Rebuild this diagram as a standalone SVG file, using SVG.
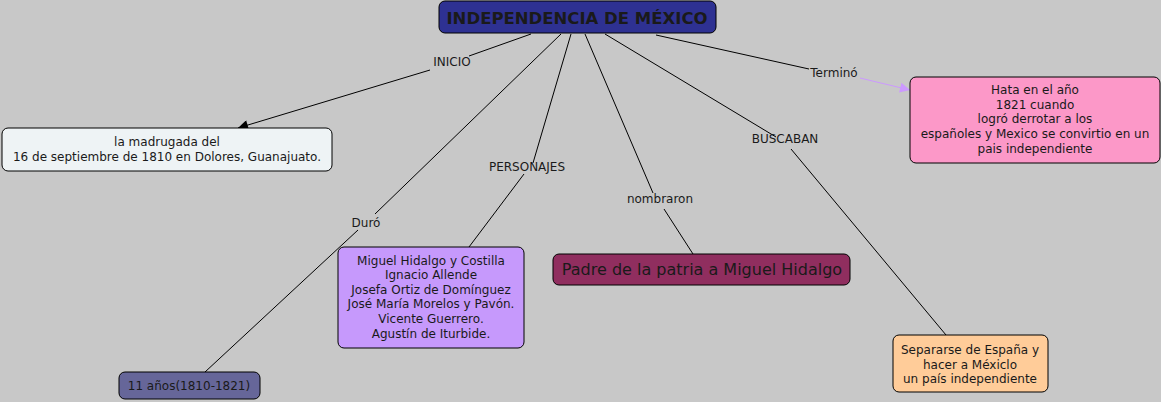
<svg xmlns="http://www.w3.org/2000/svg" width="1161" height="402" viewBox="0 0 1161 402">
<defs>
<style>
.n{stroke:#000;stroke-width:1}
.t{font-family:"DejaVu Sans",Verdana,sans-serif;font-size:12px;fill:#1a1a1a;text-anchor:middle}
.c{fill:none;stroke:#000;stroke-width:1}
.lbl{font-family:"DejaVu Sans",Verdana,sans-serif;font-size:12px;fill:#1a1a1a;text-anchor:middle}
</style>
<marker id="ab" viewBox="0 0 10 10" refX="10" refY="5" markerWidth="12" markerHeight="10" markerUnits="userSpaceOnUse" orient="auto"><path d="M0,0L10,5L0,10z" fill="#000"/></marker>
<marker id="ap" viewBox="0 0 10 10" refX="10" refY="5" markerWidth="12" markerHeight="10" markerUnits="userSpaceOnUse" orient="auto"><path d="M0,0L10,5L0,10z" fill="#cc99ff"/></marker>
</defs>
<rect width="1161" height="402" fill="#c8c8c8"/>
<g id="connectors">
<path class="c" d="M531,34L469,56M430,70L238,128" marker-end="url(#ab)"/>
<text class="lbl" x="452" y="66">INICIO</text>
<path class="c" d="M656,35L809,69"/>
<path d="M860,78L910,90" fill="none" stroke="#cc99ff" stroke-width="1" marker-end="url(#ap)"/>
<text class="lbl" x="834" y="77">Terminó</text>
<path class="c" d="M561,34L375,214M358,230L205,372"/>
<text class="lbl" x="366" y="227">Duró</text>
<path class="c" d="M571,34L533,163M524,174L469,247"/>
<text class="lbl" x="527" y="171">PERSONAJES</text>
<path class="c" d="M585,34L653,193M664,209L693,254"/>
<text class="lbl" x="660" y="203">nombraron</text>
<path class="c" d="M605,34L776,137M791,149L946,335"/>
<text class="lbl" x="785" y="143">BUSCABAN</text>
</g>
<g id="main">
<rect class="n" x="439" y="1" width="277" height="32" rx="6" fill="#2e3192"/>
<text x="577" y="24" font-family="'DejaVu Sans',Verdana,sans-serif" font-size="16.5" font-weight="bold" fill="#1a1a1a" text-anchor="middle">INDEPENDENCIA DE MÉXICO</text>
</g>
<g id="inicio">
<rect class="n" x="2" y="128" width="330" height="43" rx="6" fill="#eef3f5"/>
<text class="t" x="167" y="146">la madrugada del</text>
<text class="t" x="167" y="161">16 de septiembre de 1810 en Dolores, Guanajuato.</text>
</g>
<g id="termino">
<rect class="n" x="910" y="77" width="250" height="86" rx="6" fill="#fc98c8"/>
<text class="t" x="1035" y="94">Hata en el año</text>
<text class="t" x="1035" y="109">1821 cuando</text>
<text class="t" x="1035" y="123">logró derrotar a los</text>
<text class="t" x="1035" y="138">españoles y Mexico se convirtio en un</text>
<text class="t" x="1035" y="153">pais independiente</text>
</g>
<g id="personajes">
<rect class="n" x="338" y="247" width="186" height="101" rx="6" fill="#c699fc"/>
<text class="t" x="431" y="265">Miguel Hidalgo y Costilla</text>
<text class="t" x="431" y="279">Ignacio Allende</text>
<text class="t" x="431" y="294">Josefa Ortiz de Domínguez</text>
<text class="t" x="431" y="308">José María Morelos y Pavón.</text>
<text class="t" x="431" y="323">Vicente Guerrero.</text>
<text class="t" x="431" y="338">Agustín de Iturbide.</text>
</g>
<g id="padre">
<rect class="n" x="553" y="254" width="297" height="31" rx="6" fill="#902e5f"/>
<text x="702" y="275" font-family="'DejaVu Sans',Verdana,sans-serif" font-size="16" fill="#1a1a1a" text-anchor="middle">Padre de la patria a Miguel Hidalgo</text>
</g>
<g id="duro">
<rect class="n" x="119" y="372" width="141" height="27" rx="6" fill="#666699"/>
<text class="t" x="189" y="390">11 años(1810-1821)</text>
</g>
<g id="buscaban">
<rect class="n" x="893" y="335" width="155" height="57" rx="6" fill="#ffcc99"/>
<text class="t" x="970" y="354">Separarse de España y</text>
<text class="t" x="970" y="369">hacer a Méxiclo</text>
<text class="t" x="970" y="383">un país independiente</text>
</g>
</svg>
